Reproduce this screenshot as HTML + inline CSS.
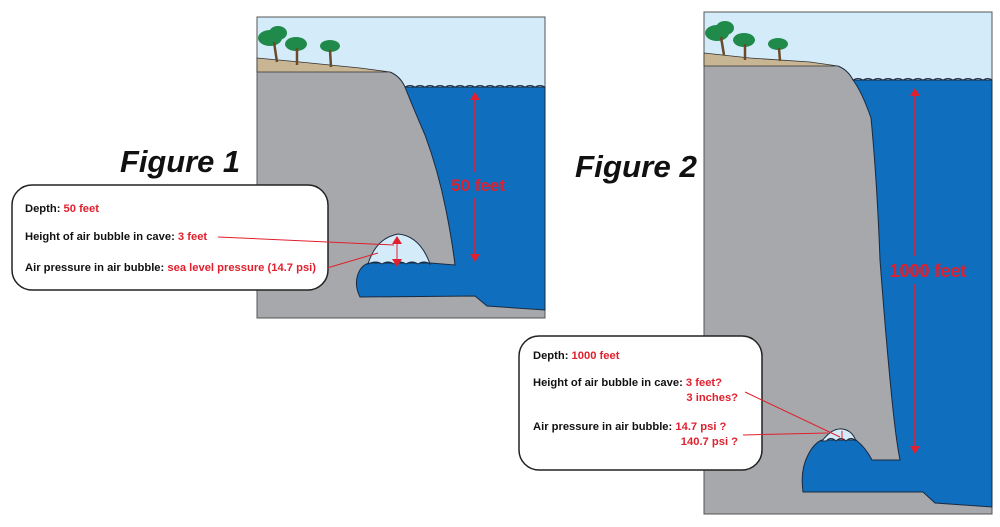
<!DOCTYPE html>
<html><head><meta charset="utf-8"><style>
html,body{margin:0;padding:0;background:#fff;}
svg{display:block;}
text{font-family:"Liberation Sans","DejaVu Sans",sans-serif;}
</style></head><body>
<svg width="1000" height="527" viewBox="0 0 1000 527" xmlns="http://www.w3.org/2000/svg">
<defs>
<marker id="ah" markerWidth="8" markerHeight="10" refX="4" refY="5" orient="auto-start-reverse" markerUnits="userSpaceOnUse">
<path d="M0,0 L8,5 L0,10 Z" fill="#e0202e"/></marker>
</defs>

<!-- FIGURE 1 PANEL -->
<rect x="257" y="17" width="288" height="301" fill="#a7a8ab" stroke="#555" stroke-width="1"/>
<path d="M257.5,17.5 L544.5,17.5 L544.5,87 L405,87 Q400,76 390,72 L257.5,72 Z" fill="#d4ecf9"/>
<path d="M257,58 L300,62 L360,68 L390,72 L257,72 Z" fill="#c8b593" stroke="#333" stroke-width="0.8"/>
<path d="M390,72 Q400,76 405,87" fill="none" stroke="#1a2a40" stroke-width="1"/>
<!-- water -->
<path d="M405,87 L545,87 L545,310 L487,306 L475,296 L360,297 Q354,285 358,274 Q362,264 370,263 L430,263 L455,265 Q452,240 446,210 Q438,170 425,135 Q412,105 405,87 Z" fill="#0f6ebd" stroke="#1a2a40" stroke-width="1"/>
<path d="M405,87 Q410,84 415,87 Q420,84 425,87 Q430,84 435,87 Q440,84 445,87 Q450,84 455,87 Q460,84 465,87 Q470,84 475,87 Q480,84 485,87 Q490,84 495,87 Q500,84 505,87 Q510,84 515,87 Q520,84 525,87 Q530,84 535,87 Q540,84 545,87" fill="none" stroke="#1a2a40" stroke-width="1"/>
<!-- bubble -->
<path d="M368,264 Q376,238 398,234 Q420,236 430,264 Q424,260 418,264 Q412,260 406,264 Q400,260 394,264 Q388,260 382,264 Q376,260 368,264 Z" fill="#d4ecf9" stroke="#1a2a40" stroke-width="1"/>
<!-- trees -->
<g fill="#1f8a4a"><ellipse cx="270" cy="38" rx="12" ry="8"/><ellipse cx="278" cy="33" rx="9" ry="7"/><ellipse cx="296" cy="44" rx="11" ry="7"/><ellipse cx="330" cy="46" rx="10" ry="6"/></g>
<g stroke="#6b4a2a" stroke-width="2.5"><line x1="274" y1="42" x2="277" y2="62"/><line x1="297" y1="48" x2="297" y2="65"/><line x1="330" y1="50" x2="331" y2="67"/></g>
<line x1="475" y1="96" x2="475" y2="172" stroke="#e0202e" stroke-width="1.5" marker-start="url(#ah)"/>
<line x1="475" y1="198" x2="475" y2="258" stroke="#e0202e" stroke-width="1.5" marker-end="url(#ah)"/>
<text x="478" y="191" font-size="17" font-weight="bold" fill="#e0202e" text-anchor="middle">50 feet</text>

<text x="240" y="172" font-size="31" font-weight="bold" font-style="italic" text-anchor="end" fill="#111" textLength="120" lengthAdjust="spacingAndGlyphs">Figure 1</text>

<rect x="12" y="185" width="316" height="105" rx="20" fill="#fff" stroke="#222" stroke-width="1.5"/>
<g font-size="11.2" font-weight="bold" fill="#111">
<text x="25" y="212">Depth: <tspan fill="#e0202e">50 feet</tspan></text>
<text x="25" y="240">Height of air bubble in cave: <tspan fill="#e0202e">3 feet</tspan></text>
<text x="25" y="271">Air pressure in air bubble:  <tspan fill="#e0202e">sea level pressure (14.7 psi)</tspan></text>
</g>
<line x1="218" y1="237" x2="394" y2="245" stroke="#e0202e" stroke-width="1"/>
<line x1="327" y1="268" x2="378" y2="253" stroke="#e0202e" stroke-width="1"/>
<line x1="397" y1="240" x2="397" y2="263" stroke="#e0202e" stroke-width="1" marker-start="url(#ah)" marker-end="url(#ah)"/>

<!-- FIGURE 2 PANEL -->
<rect x="704" y="12" width="288" height="502" fill="#a7a8ab" stroke="#555" stroke-width="1"/>
<path d="M704.5,12.5 L991.5,12.5 L991.5,80 L853,80 Q848,70 838,66 L704.5,66 Z" fill="#d4ecf9"/>
<path d="M704,53 L750,58 L810,62 L838,66 L704,66 Z" fill="#c8b593" stroke="#333" stroke-width="0.8"/>
<path d="M838,66 Q848,70 853,80" fill="none" stroke="#1a2a40" stroke-width="1"/>
<path d="M853,80 L992,80 L992,507 L935,503 L923,492 L803,492 Q800,470 808,455 Q814,443 822,440 L856,440 Q866,448 872,460 L900,460 Q896,440 892,400 Q886,340 880,260 Q877,180 871,118 Q862,92 853,80 Z" fill="#0f6ebd" stroke="#1a2a40" stroke-width="1"/>
<path d="M853,80 Q858,77 863,80 Q868,77 873,80 Q878,77 883,80 Q888,77 893,80 Q898,77 903,80 Q908,77 913,80 Q918,77 923,80 Q928,77 933,80 Q938,77 943,80 Q948,77 953,80 Q958,77 963,80 Q968,77 973,80 Q978,77 983,80 Q988,77 992,80" fill="none" stroke="#1a2a40" stroke-width="1"/>
<path d="M822,441 Q832,428 842,429 Q852,430 856,441 Q851,436 846,441 Q841,436 836,441 Q831,436 826,441 Z" fill="#d4ecf9" stroke="#1a2a40" stroke-width="1"/>
<g fill="#1f8a4a"><ellipse cx="717" cy="33" rx="12" ry="8"/><ellipse cx="725" cy="28" rx="9" ry="7"/><ellipse cx="744" cy="40" rx="11" ry="7"/><ellipse cx="778" cy="44" rx="10" ry="6"/></g>
<g stroke="#6b4a2a" stroke-width="2.5"><line x1="721" y1="37" x2="724" y2="55"/><line x1="745" y1="44" x2="745" y2="60"/><line x1="779" y1="48" x2="780" y2="61"/></g>
<line x1="915" y1="92" x2="915" y2="256" stroke="#e0202e" stroke-width="1.5" marker-start="url(#ah)"/>
<line x1="915" y1="284" x2="915" y2="450" stroke="#e0202e" stroke-width="1.5" marker-end="url(#ah)"/>
<text x="928" y="277" font-size="18" font-weight="bold" fill="#e0202e" text-anchor="middle">1000 feet</text>

<text x="697" y="177" font-size="31" font-weight="bold" font-style="italic" text-anchor="end" fill="#111" textLength="122" lengthAdjust="spacingAndGlyphs">Figure 2</text>

<rect x="519" y="336" width="243" height="134" rx="20" fill="#fff" stroke="#222" stroke-width="1.5"/>
<g font-size="11.2" font-weight="bold" fill="#111">
<text x="533" y="359">Depth: <tspan fill="#e0202e">1000 feet</tspan></text>
<text x="533" y="386">Height of air bubble in cave: <tspan fill="#e0202e">3 feet?</tspan></text>
<text x="738" y="401" text-anchor="end" fill="#e0202e">3 inches?</text>
<text x="533" y="430">Air pressure in air bubble:  <tspan fill="#e0202e">14.7 psi ?</tspan></text>
<text x="738" y="445" text-anchor="end" fill="#e0202e">140.7 psi ?</text>
</g>
<line x1="745" y1="392" x2="840" y2="437" stroke="#e0202e" stroke-width="1"/>
<line x1="743" y1="435" x2="828" y2="433" stroke="#e0202e" stroke-width="1"/>
<line x1="842" y1="431" x2="842" y2="440" stroke="#e0202e" stroke-width="1"/>
</svg>
</body></html>
